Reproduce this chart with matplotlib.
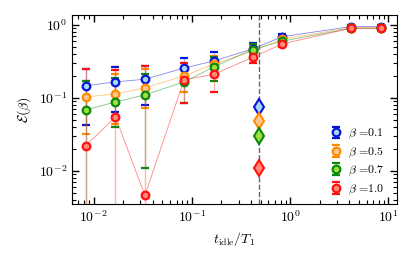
import numpy as np
import matplotlib
matplotlib.use('Agg')
import matplotlib.pyplot as plt

plt.rcParams['mathtext.fontset'] = 'cm'
plt.rcParams['font.family'] = 'serif'
plt.rcParams['font.serif'] = ['cmr10']
plt.rcParams['axes.formatter.use_mathtext'] = True

# data
t_idle = [0.0083, 0.0167, 0.0333, 0.0833, 0.167, 0.417, 0.833, 4.17, 8.33]
betas = ['0.1', '0.5', '0.7', '1.0']

err_b01 = [0.146, 0.166, 0.18, 0.257, 0.32, 0.47, 0.69, 0.95, 0.95]
lo_b01 = [0.043, 0.064, 0.080, 0.17, 0.25, 0.40, 0.63, 0.90, 0.90]
hi_b01 = [0.25, 0.265, 0.275, 0.35, 0.43, 0.56, 0.75, 1.00, 1.00]

err_b05 = [0.103, 0.113, 0.137, 0.20, 0.29, 0.44, 0.64, 0.92, 0.92]
lo_b05 = [0.032, 0.044, 0.073, 0.12, 0.20, 0.37, 0.57, 0.87, 0.87]
hi_b05 = [0.17, 0.21, 0.25, 0.30, 0.38, 0.52, 0.70, 0.97, 0.97]

err_b07 = [0.068, 0.088, 0.11, 0.165, 0.266, 0.46, 0.60, 0.90, 0.90]
lo_b07 = [0.001, 0.040, 0.011, 0.085, 0.17, 0.36, 0.53, 0.86, 0.86]
hi_b07 = [0.17, 0.19, 0.21, 0.25, 0.36, 0.54, 0.67, 0.95, 0.95]

err_b10 = [0.022, 0.055, 0.0046, 0.177, 0.21, 0.36, 0.55, 0.90, 0.90]
lo_b10 = [0.001, 0.001, 0.001, 0.085, 0.12, 0.30, 0.50, 0.86, 0.86]
hi_b10 = [0.25, 0.24, 0.275, 0.30, 0.30, 0.42, 0.60, 0.95, 0.95]

t_mark = 0.48
diamond_vals = [0.075, 0.048, 0.030, 0.011]

x_ticks = [0.01, 0.1, 1, 10]
x_ticklabels = [r'$10^{-2}$', r'$10^{-1}$', r'$10^{0}$', r'$10^{1}$']

series = [(err_b01, lo_b01, hi_b01), (err_b05, lo_b05, hi_b05),
          (err_b07, lo_b07, hi_b07), (err_b10, lo_b10, hi_b10)]
edges = ['#0a14d8', '#ff8c00', '#0a8a0a', '#ff1010']
faces = ['#a6d8f2', '#ffc890', '#9fe040', '#ff8a78']

fig = plt.figure(figsize=(4.15, 2.58), dpi=100)
ax = fig.add_axes([0.173, 0.209, 0.784, 0.733])
ax.set_xscale('log')
ax.set_yscale('log')

ax.axvline(t_mark, color='#666666', ls='--', lw=1.0, zorder=1)

for (y, lo, hi), b, ec, fc in zip(series, betas, edges, faces):
    y = np.array(y)
    yerr = [y - np.array(lo), np.array(hi) - y]
    ax.plot(t_idle, y, '-', color=ec, lw=0.6, alpha=0.5, zorder=2)
    cont = ax.errorbar(t_idle, y, yerr=yerr, fmt='o', ms=5.5, mfc=fc, mec=ec,
                       mew=1.6, ecolor=ec, elinewidth=1.0, capsize=3,
                       capthick=1.6, label=r'$\beta$ =' + b, zorder=3)
    for bl in cont[2]:
        bl.set_alpha(0.3)

for v, ec, fc in zip(diamond_vals, edges, faces):
    ax.plot([t_mark], [v], marker='d', ms=8.5, mfc=fc, mec=ec, mew=1.5,
            ls='none', zorder=4)

ax.tick_params(which='both', direction='in', top=True, right=True)
ax.tick_params(which='major', length=5, width=1)
ax.tick_params(which='minor', length=3, width=0.8)
ax.set_xlim(0.006, 12.3)
ax.set_ylim(0.0035, 1.37)
ax.set_xticks(x_ticks)
ax.set_xticklabels(x_ticklabels, fontsize=10)
ax.set_xlabel(r'$t_{\rm idle}/T_1$', fontsize=10)
ax.set_ylabel(r'$\mathcal{E}(\beta)$', fontsize=10)

ax.legend(loc='lower right', frameon=False, fontsize=8.5, handlelength=0.8,
          handletextpad=0.6, labelspacing=0.35, borderaxespad=0.4,
          bbox_to_anchor=(0.99, -0.01))

fig.savefig('out.png', dpi=100)
